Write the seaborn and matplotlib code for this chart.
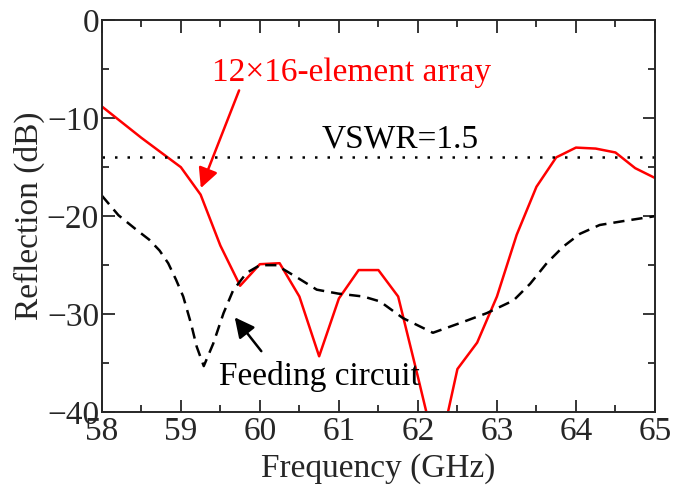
import numpy as np
import pandas as pd
import seaborn as sns
import matplotlib.pyplot as plt
from matplotlib.ticker import MultipleLocator

# 12x16-element array (red, solid)
freq_array = [58.0, 58.25, 58.5, 58.75, 59.0, 59.25, 59.5, 59.75, 60.0, 60.25,
              60.5, 60.75, 61.0, 61.25, 61.5, 61.75, 62.0, 62.25, 62.5, 62.75,
              63.0, 63.25, 63.5, 63.75, 64.0, 64.25, 64.5, 64.75, 65.0]
refl_array = [-8.8, -10.4, -12.0, -13.5, -15.0, -17.8, -23.0, -27.1, -24.9, -24.8,
              -28.2, -34.3, -28.4, -25.5, -25.5, -28.2, -36.4, -44.8, -35.6, -32.9,
              -28.2, -21.9, -17.0, -14.0, -13.0, -13.1, -13.5, -15.1, -16.1]

# feeding circuit (black, dashed)
freq_feed = [58.0, 58.21, 58.44, 58.6, 58.73, 58.84, 58.94, 59.03, 59.13, 59.2,
             59.29, 59.41, 59.54, 59.66, 59.83, 60.0, 60.21, 60.46, 60.72, 60.99,
             61.31, 61.52, 61.81, 62.19, 62.57, 62.87, 63.21, 63.42, 63.63, 63.84,
             64.05, 64.3, 64.6, 65.0]
refl_feed = [-17.9, -19.9, -21.4, -22.4, -23.5, -24.8, -26.5, -28.2, -31.0, -33.3,
             -35.3, -33.0, -29.9, -27.6, -25.8, -25.0, -25.0, -26.2, -27.5, -27.9,
             -28.2, -28.7, -30.4, -31.9, -30.8, -29.9, -28.6, -26.9, -24.8, -23.1,
             -21.8, -20.9, -20.5, -20.0]

vswr_level = -14.0

df_array = pd.DataFrame({'f': freq_array, 'r': refl_array})
df_feed = pd.DataFrame({'f': freq_feed, 'r': refl_feed})

sns.set_style("ticks")
plt.rcParams['font.family'] = ['Liberation Serif', 'DejaVu Serif']

fig = plt.figure(figsize=(6.88, 4.93), dpi=100)
ax = fig.add_axes([0.148, 0.164, 0.804, 0.795])

sns.lineplot(data=df_array, x='f', y='r', color='red', lw=1.8, ax=ax)
sns.lineplot(data=df_feed, x='f', y='r', color='black', lw=1.8,
             linestyle=(0, (4.5, 2.8)), ax=ax)
ax.axhline(vswr_level, color='black', lw=1.8, linestyle=(0, (1, 4)))

ax.set_xlim(58, 65)
ax.set_ylim(-40, 0)
ax.xaxis.set_major_locator(MultipleLocator(1))
ax.xaxis.set_minor_locator(MultipleLocator(0.5))
ax.yaxis.set_minor_locator(MultipleLocator(5))
ax.set_yticks([0, -10, -20, -30, -40])
ax.set_yticklabels(['0', '\u221210', '\u221220', '\u221230', '\u221240'])
ax.tick_params(which='both', direction='in', top=True, right=True, width=1.3,
               labelsize=24)
ax.tick_params(axis='x', pad=3)
ax.tick_params(axis='y', pad=2)
ax.tick_params(which='major', length=9)
ax.tick_params(which='minor', length=5)
for s in ax.spines.values():
    s.set_linewidth(1.4)

ax.set_xlabel('Frequency (GHz)', fontsize=24, labelpad=4.5)
ax.set_ylabel('Reflection (dB)', fontsize=24, labelpad=1)

ax.annotate('', xy=(59.24, -17.4), xytext=(59.75, -6.9),
            arrowprops=dict(arrowstyle='-|>', color='red', lw=1.8, mutation_scale=30))
ax.text(61.16, -5.4, '12\u00d716-element array', color='red', fontsize=24,
        ha='center', va='center')
ax.text(61.78, -12.1, 'VSWR=1.5', color='black', fontsize=24,
        ha='center', va='center')
ax.annotate('', xy=(59.66, -30.1), xytext=(60.04, -34.0),
            arrowprops=dict(arrowstyle='-|>', color='black', lw=1.8, mutation_scale=30))
ax.text(60.75, -36.4, 'Feeding circuit', color='black', fontsize=24,
        ha='center', va='center')

fig.savefig('out.png', dpi=100)
